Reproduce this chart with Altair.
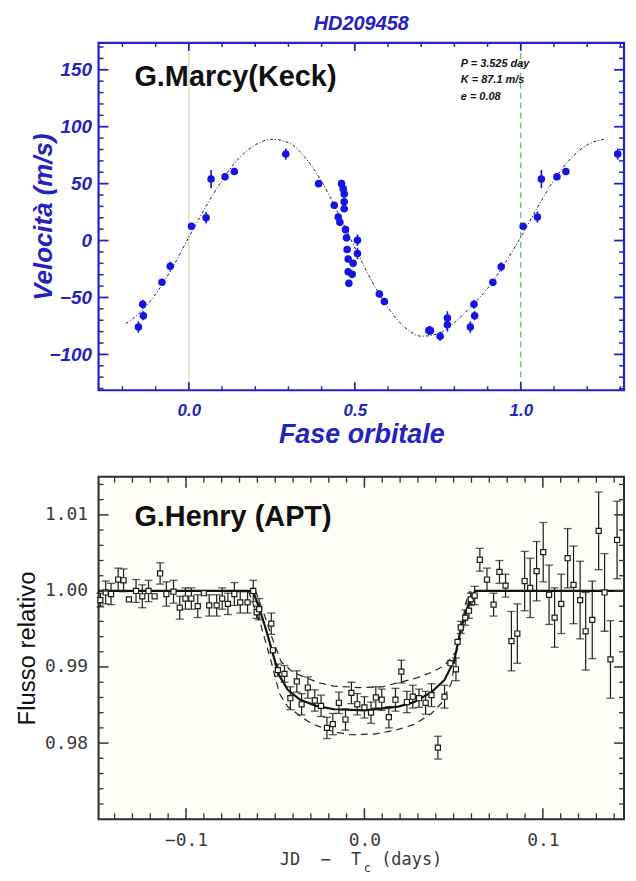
import altair as alt
import pandas as pd

# ---------------- top panel : radial velocity ----------------
rv_phase = [-0.152, -0.139, -0.137, -0.081, -0.056, 0.008, 0.052, 0.067, 0.109, 0.137,
            0.292, 0.391, 0.438, 0.450, 0.455, 0.460, 0.465, 0.468, 0.468, 0.468,
            0.472, 0.475, 0.477, 0.480, 0.480, 0.482, 0.492, 0.495, 0.508, 0.508,
            0.574, 0.589, 0.723, 0.728, 0.757, 0.779, 0.779, 0.848, 0.859, 0.861,
            0.916, 0.941, 1.007, 1.050, 1.062, 1.109, 1.136, 1.292]
rv_vel = [-76, -56, -66, -36.7, -22.5, 12.5, 20, 54, 56, 60.6,
          76, 50, 31, 20.7, 16, 50, 45.5, 41, 34, 28,
          9.6, 2.4, -7.9, -16.3, -27.4, -37.6, -29.7, -20, 0.3, -11.4,
          -47, -53.6, -79, -79, -84, -68, -74, -76, -56, -66,
          -36.7, -23, 12.5, 20.7, 54, 56, 60.6, 76]
rv_err = [5, 4, 4, 3, 4, 3, 5, 8, 3, 3,
          5, 3, 3, 3, 3, 3, 3, 3, 3, 3,
          3, 3, 3, 3, 3, 3, 3, 3, 5, 5,
          3, 3, 4, 4, 4, 6, 6, 5, 4, 4,
          3, 4, 3, 5, 8, 3, 3, 5]

fit_phase = [-0.19, -0.15, -0.10, -0.05, 0.00, 0.05, 0.10, 0.15, 0.20, 0.25,
             0.30, 0.35, 0.40, 0.45, 0.50, 0.55, 0.60, 0.65, 0.70, 0.75,
             0.80, 0.85, 0.90, 0.95, 1.00, 1.05, 1.10, 1.15, 1.20, 1.25]
fit_vel = [-73, -64, -47, -24, 3, 29, 53, 72, 84, 89,
           86, 73, 52, 24, -6, -35, -59, -76, -84, -82,
           -72, -58, -42, -21, 3, 29, 53, 72, 84, 89]

phase_marks = [0.0, 1.0]
rv_x_major = [0.0, 0.5, 1.0]
rv_x_minor = [-0.2, -0.1, 0.1, 0.2, 0.3, 0.4, 0.6, 0.7, 0.8, 0.9, 1.1, 1.2, 1.3]
rv_y_major = [-100, -50, 0, 50, 100, 150]
rv_y_minor = [-130, -120, -110, -90, -80, -70, -60, -40, -30, -20, -10, 10, 20, 30, 40,
              60, 70, 80, 90, 110, 120, 130, 140, 160, 170]
rv_params = ["P = 3.525 day", "K = 87.1 m/s", "e = 0.08"]

# ---------------- bottom panel : transit light curve ----------------
lc_t = [-0.148, -0.145, -0.142, -0.138, -0.135, -0.132, -0.128, -0.1245, -0.121, -0.1176,
        -0.1145, -0.111, -0.107, -0.1035, -0.1003, -0.097, -0.0934, -0.090, -0.087, -0.0828,
        -0.0797, -0.0765, -0.0729, -0.0696, -0.0655, -0.0623, -0.0604, -0.0590, -0.0522, -0.0513,
        -0.0485, -0.0448, -0.0415, -0.0379, -0.0352, -0.0317, -0.0278, -0.0243, -0.021, -0.0177,
        -0.0143, -0.0106, -0.0073, -0.004, 0.000, 0.0037, 0.0064, 0.0097, 0.0137, 0.0174,
        0.0207, 0.0238, 0.0271, 0.0306, 0.0343, 0.0376, 0.0412, 0.0449, 0.0482, 0.0513,
        0.0522, 0.054, 0.0565, 0.0586, 0.0596, 0.0618, 0.0647, 0.0687, 0.0724, 0.0757,
        0.0791, 0.0824, 0.0857, 0.0898, 0.0929, 0.0965, 0.1002, 0.1035, 0.1066, 0.1103,
        0.1139, 0.1172, 0.1209, 0.1240, 0.1277, 0.1313, 0.1346, 0.1379, 0.1416]
lc_f = [0.9988, 0.9998, 0.9996, 1.0015, 1.0014, 0.9989, 1.0000, 0.9993, 1.0000, 0.9993,
        1.0023, 0.9996, 0.9999, 0.9978, 0.9990, 0.9990, 0.9980, 0.9997, 0.9981, 0.9981,
        0.9990, 0.9983, 0.9996, 0.9985, 0.9985, 1.0000, 0.9972, 0.9976, 0.9957, 0.9922,
        0.9896, 0.9891, 0.9859, 0.9881, 0.9851, 0.9873, 0.9856, 0.9849, 0.9820, 0.9825,
        0.9853, 0.9831, 0.9866, 0.9851, 0.9847, 0.9840, 0.9860, 0.9857, 0.9834, 0.9857,
        0.9894, 0.9854, 0.9861, 0.9859, 0.9853, 0.9863, 0.9794, 0.9861, 0.9905, 0.9897,
        0.9933, 0.9952, 0.9965, 0.9974, 0.9989, 0.9994, 1.0041, 1.0015, 0.9982, 1.0025,
        1.0007, 0.9934, 0.9944, 1.0013, 1.0004, 1.0026, 1.0051, 0.9995, 0.9965, 0.9983,
        1.0043, 1.0008, 0.9988, 0.9947, 0.9962, 1.0079, 0.9998, 0.9910, 1.0067]
lc_e = [0.0009, 0.0015, 0.0014, 0.0015, 0.0015, 0.0, 0.0015, 0.0015, 0.0014, 0.0,
        0.0014, 0.0016, 0.0015, 0.0015, 0.0014, 0.0014, 0.0015, 0.0, 0.0014, 0.0014,
        0.0014, 0.0014, 0.0015, 0.0014, 0.0014, 0.0014, 0.0008, 0.0014, 0.0014, 0.0,
        0.0008, 0.0011, 0.0015, 0.0014, 0.0014, 0.0014, 0.0014, 0.0014, 0.0014, 0.0014,
        0.0014, 0.0014, 0.0014, 0.0014, 0.0014, 0.0014, 0.0014, 0.0014, 0.0014, 0.0015,
        0.0015, 0.0014, 0.0015, 0.0012, 0.0015, 0.0015, 0.0015, 0.0015, 0.0, 0.0015,
        0.0, 0.0008, 0.0010, 0.0010, 0.0008, 0.0012, 0.0015, 0.0015, 0.0015, 0.0015,
        0.0015, 0.0039, 0.0039, 0.0039, 0.0039, 0.0039, 0.0039, 0.0039, 0.0039, 0.0039,
        0.0039, 0.0051, 0.0051, 0.0051, 0.0051, 0.0051, 0.0051, 0.0051, 0.0051]

model_t = [-0.150, -0.0625, -0.059, -0.055, -0.051, -0.048, -0.043, -0.036, -0.027, -0.017,
           0.000, 0.019, 0.028, 0.0376, 0.0449, 0.0504, 0.054, 0.058, 0.062, 0.146]
model_f = [1.0000, 1.0000, 0.9978, 0.9948, 0.9915, 0.9890, 0.9870, 0.9857, 0.9849, 0.98445,
           0.9843, 0.9848, 0.9854, 0.9867, 0.9883, 0.9909, 0.9950, 0.9980, 1.0000, 1.0000]
upper_t = [-0.061, -0.057, -0.052, -0.0467, -0.040, -0.0265, -0.0174, -0.003, 0.010, 0.0284,
           0.0376, 0.0449, 0.052, 0.056, 0.060]
upper_f = [1.0000, 0.9975, 0.9940, 0.9907, 0.9893, 0.9880, 0.9875, 0.9873, 0.9874, 0.9885,
           0.9893, 0.9902, 0.9922, 0.9955, 1.0000]
lower_t = [-0.065, -0.058, -0.052, -0.0476, -0.043, -0.0357, -0.030, -0.0174, -0.0082, 0.0064,
           0.019, 0.0284, 0.0376, 0.043, 0.0486, 0.0531, 0.057, 0.059]
lower_f = [1.0000, 0.9955, 0.9905, 0.9865, 0.9848, 0.9835, 0.9826, 0.9815, 0.9811, 0.9812,
           0.9818, 0.9825, 0.9839, 0.9852, 0.9878, 0.9939, 0.9985, 1.0000]

lc_x_major = [-0.1, 0.0, 0.1]
lc_x_minor = [-0.14, -0.13, -0.12, -0.11, -0.09, -0.08, -0.07, -0.06, -0.05, -0.04, -0.03,
              -0.02, -0.01, 0.01, 0.02, 0.03, 0.04, 0.05, 0.06, 0.07, 0.08, 0.09, 0.11,
              0.12, 0.13, 0.14]
lc_y_major = [0.98, 0.99, 1.00, 1.01]
lc_y_minor = [0.972, 0.974, 0.976, 0.978, 0.982, 0.984, 0.986, 0.988, 0.992, 0.994,
              0.996, 0.998, 1.002, 1.004, 1.006, 1.008, 1.012, 1.014]

NB = "\u00a0"
lc_xtitle_left = "JD" + NB * 2 + "\u2212" + NB * 2 + "T"
lc_xtitle_sub = "c"
lc_xtitle_right = "(days)"

# ---------------- styling ----------------
BLUE = "#2323c0"
PT = "#1515e2"
DARK = "#333333"
W, H1, H2 = 528, 349, 344

one = pd.DataFrame({"k": [0]})

# ---------- top chart ----------
tx_scale = alt.Scale(domain=[-0.272, 1.311], nice=False, zero=False)
ty_scale = alt.Scale(domain=[-131.5, 173.6], nice=False, zero=False)
tx_axis = alt.Axis(values=rv_x_major, format=".1f", ticks=False, tickSize=0, domain=False,
                   grid=False, labelFont="Liberation Sans", labelFontSize=17,
                   labelFontStyle="italic", labelFontWeight="bold", labelColor=BLUE,
                   labelPadding=12, title="Fase orbitale", titleFont="Liberation Sans",
                   titleFontSize=27, titleFontStyle="italic", titleFontWeight="bold",
                   titleColor=BLUE, titleY=45, titleBaseline="middle")
ty_axis = alt.Axis(values=rv_y_major, format="d", ticks=False, tickSize=0, domain=False,
                   grid=False, labelFont="Liberation Sans", labelFontSize=19,
                   labelFontStyle="italic", labelFontWeight="bold", labelColor=BLUE,
                   labelPadding=7, title="Velocità (m/s)", titleFont="Liberation Sans",
                   titleFontSize=26, titleFontStyle="italic", titleFontWeight="bold",
                   titleColor=BLUE, titleX=-55, titleBaseline="middle")

def TX(f):
    return alt.X(f, type="quantitative", scale=tx_scale, axis=tx_axis)

def TY(f):
    return alt.Y(f, type="quantitative", scale=ty_scale, axis=ty_axis)

rv = pd.DataFrame({"phase": rv_phase, "v": rv_vel, "e": rv_err})
rv["lo"] = rv["v"] - rv["e"]
rv["hi"] = rv["v"] + rv["e"]
fit = pd.DataFrame({"phase": fit_phase, "v": fit_vel})

vl0 = alt.Chart(pd.DataFrame({"x": [phase_marks[0]]})).mark_rule(
    color="#cfe8c8", strokeWidth=1.5).encode(x=TX("x"))
vl1 = alt.Chart(pd.DataFrame({"x": [phase_marks[1]]})).mark_rule(
    color="#3fa83f", strokeWidth=1, strokeDash=[6, 4]).encode(x=TX("x"))
fit_line = alt.Chart(fit).mark_line(color="#1a1a50", strokeWidth=1, strokeDash=[3, 2, 1, 2],
                                    interpolate="monotone").encode(x=TX("phase"), y=TY("v"))
rv_bars = alt.Chart(rv).mark_rule(color=PT, strokeWidth=1.6).encode(
    x=TX("phase"), y=TY("lo"), y2="hi")
rv_pts = alt.Chart(rv).mark_circle(color=PT, size=58, opacity=1).encode(
    x=TX("phase"), y=TY("v"))

def x_ticks(vals, field_fn, H, L, color, width):
    d = pd.DataFrame({"t": vals})
    bot = alt.Chart(d).mark_rule(color=color, strokeWidth=width).encode(
        x=field_fn("t"), y=alt.value(H - L), y2=alt.value(H))
    top = alt.Chart(d).mark_rule(color=color, strokeWidth=width).encode(
        x=field_fn("t"), y=alt.value(0), y2=alt.value(L))
    return [bot, top]

def y_ticks(vals, field_fn, L, color, width):
    d = pd.DataFrame({"t": vals})
    left = alt.Chart(d).mark_rule(color=color, strokeWidth=width).encode(
        y=field_fn("t"), x=alt.value(0), x2=alt.value(L))
    right = alt.Chart(d).mark_rule(color=color, strokeWidth=width).encode(
        y=field_fn("t"), x=alt.value(W - L), x2=alt.value(W))
    return [left, right]

top_ticks = (x_ticks(rv_x_minor, TX, H1, 4, BLUE, 1.5) + x_ticks(rv_x_major, TX, H1, 8, BLUE, 1.8)
             + y_ticks(rv_y_minor, TY, 5, BLUE, 1.5) + y_ticks(rv_y_major, TY, 10, BLUE, 1.8))

marcy = alt.Chart(one).mark_text(text="G.Marcy(Keck)", font="Liberation Sans", fontSize=29,
                                 fontWeight="bold", color="#111111", align="left",
                                 baseline="middle").encode(x=alt.value(36), y=alt.value(34))
params = alt.Chart(one).mark_text(text=rv_params, font="Liberation Sans", fontSize=11,
                                  fontWeight="bold", fontStyle="italic", color="#111111",
                                  align="left", baseline="top", lineHeight=16.5).encode(
    x=alt.value(364), y=alt.value(15))

top = alt.layer(vl0, vl1, fit_line, rv_bars, rv_pts, *top_ticks, marcy, params).properties(
    width=W, height=H1,
    title=alt.TitleParams("HD209458", font="Liberation Sans", fontSize=20, fontStyle="italic",
                          fontWeight="bold", color=BLUE, offset=8, anchor="middle"),
    view=alt.ViewBackground(stroke=BLUE, strokeWidth=2.2, fill="white"))

# ---------- bottom chart ----------
bx_scale = alt.Scale(domain=[-0.149, 0.1455], nice=False, zero=False)
by_scale = alt.Scale(domain=[0.9700, 1.0150], nice=False, zero=False)
bx_axis = alt.Axis(values=lc_x_major, format=".1f", ticks=False, tickSize=0, domain=False,
                   grid=False, labelFont="DejaVu Sans Mono", labelFontSize=18,
                   labelColor="#3a3a3a", labelPadding=12, title="")
by_axis = alt.Axis(values=lc_y_major, format=".2f", ticks=False, tickSize=0, domain=False,
                   grid=False, labelFont="DejaVu Sans Mono", labelFontSize=18,
                   labelColor="#3a3a3a", labelPadding=11, title="Flusso relativo",
                   titleFont="Liberation Sans", titleFontSize=24, titleFontWeight="normal",
                   titleColor="#111111", titleX=-71, titleBaseline="middle")

def BX(f):
    return alt.X(f, type="quantitative", scale=bx_scale, axis=bx_axis)

def BY(f):
    return alt.Y(f, type="quantitative", scale=by_scale, axis=by_axis)

lc = pd.DataFrame({"t": lc_t, "f": lc_f, "e": lc_e})
lc["lo"] = lc["f"] - lc["e"]
lc["hi"] = lc["f"] + lc["e"]
lce = lc[lc["e"] > 0]

model = pd.DataFrame({"t": model_t, "f": model_f})
upper = pd.DataFrame({"t": upper_t, "f": upper_f})
lower = pd.DataFrame({"t": lower_t, "f": lower_f})

m_line = alt.Chart(model).mark_line(color="#111111", strokeWidth=2.2, clip=True).encode(
    x=BX("t"), y=BY("f"))
u_line = alt.Chart(upper).mark_line(color="#222222", strokeWidth=1.2, strokeDash=[7, 5]).encode(
    x=BX("t"), y=BY("f"))
l_line = alt.Chart(lower).mark_line(color="#222222", strokeWidth=1.2, strokeDash=[7, 5]).encode(
    x=BX("t"), y=BY("f"))
lc_bars = alt.Chart(lce).mark_rule(color="#1a1a1a", strokeWidth=1.2).encode(
    x=BX("t"), y=BY("lo"), y2="hi")
cap_lo = alt.Chart(lce).mark_tick(color="#1a1a1a", orient="horizontal", size=8,
                                  thickness=1.3).encode(x=BX("t"), y=BY("lo"))
cap_hi = alt.Chart(lce).mark_tick(color="#1a1a1a", orient="horizontal", size=8,
                                  thickness=1.3).encode(x=BX("t"), y=BY("hi"))
lc_pts = alt.Chart(lc).mark_square(filled=False, size=26, color="#1a1a1a",
                                   strokeWidth=1.2, fill="#fdfdf6", fillOpacity=1).encode(
    x=BX("t"), y=BY("f"))

bot_ticks = (x_ticks(lc_x_minor, BX, H2, 6, DARK, 1.3) + x_ticks(lc_x_major, BX, H2, 11, DARK, 1.5)
             + y_ticks(lc_y_minor, BY, 5, DARK, 1.3) + y_ticks(lc_y_major, BY, 10, DARK, 1.5))

henry = alt.Chart(one).mark_text(text="G.Henry (APT)", font="Liberation Sans", fontSize=29,
                                 fontWeight="bold", color="#111111", align="left",
                                 baseline="middle").encode(x=alt.value(36), y=alt.value(40))
xt_left = alt.Chart(one).mark_text(text=lc_xtitle_left, font="DejaVu Sans Mono", fontSize=17,
                                   color="#3a3a3a", align="right", baseline="middle").encode(
    x=alt.value(264), y=alt.value(H2 + 41))
xt_sub = alt.Chart(one).mark_text(text=lc_xtitle_sub, font="DejaVu Sans Mono", fontSize=12,
                                  color="#3a3a3a", align="center", baseline="middle").encode(
    x=alt.value(270), y=alt.value(H2 + 49))
xt_right = alt.Chart(one).mark_text(text=lc_xtitle_right, font="DejaVu Sans Mono", fontSize=17,
                                    color="#3a3a3a", align="left", baseline="middle").encode(
    x=alt.value(284), y=alt.value(H2 + 41))

bottom = alt.layer(u_line, l_line, m_line, lc_bars, cap_lo, cap_hi, lc_pts, *bot_ticks,
                   henry, xt_left, xt_sub, xt_right).properties(
    width=W, height=H2,
    view=alt.ViewBackground(stroke="#2a2a2a", strokeWidth=2, fill="#fdfdf6"))

chart = alt.vconcat(top, bottom, spacing=87, bounds="flush").properties(
    padding={"left": 7, "top": 3, "right": 2, "bottom": 0},
    background="#ffffff")

chart.save("out.html", embed_options={"renderer": "svg", "actions": False})
